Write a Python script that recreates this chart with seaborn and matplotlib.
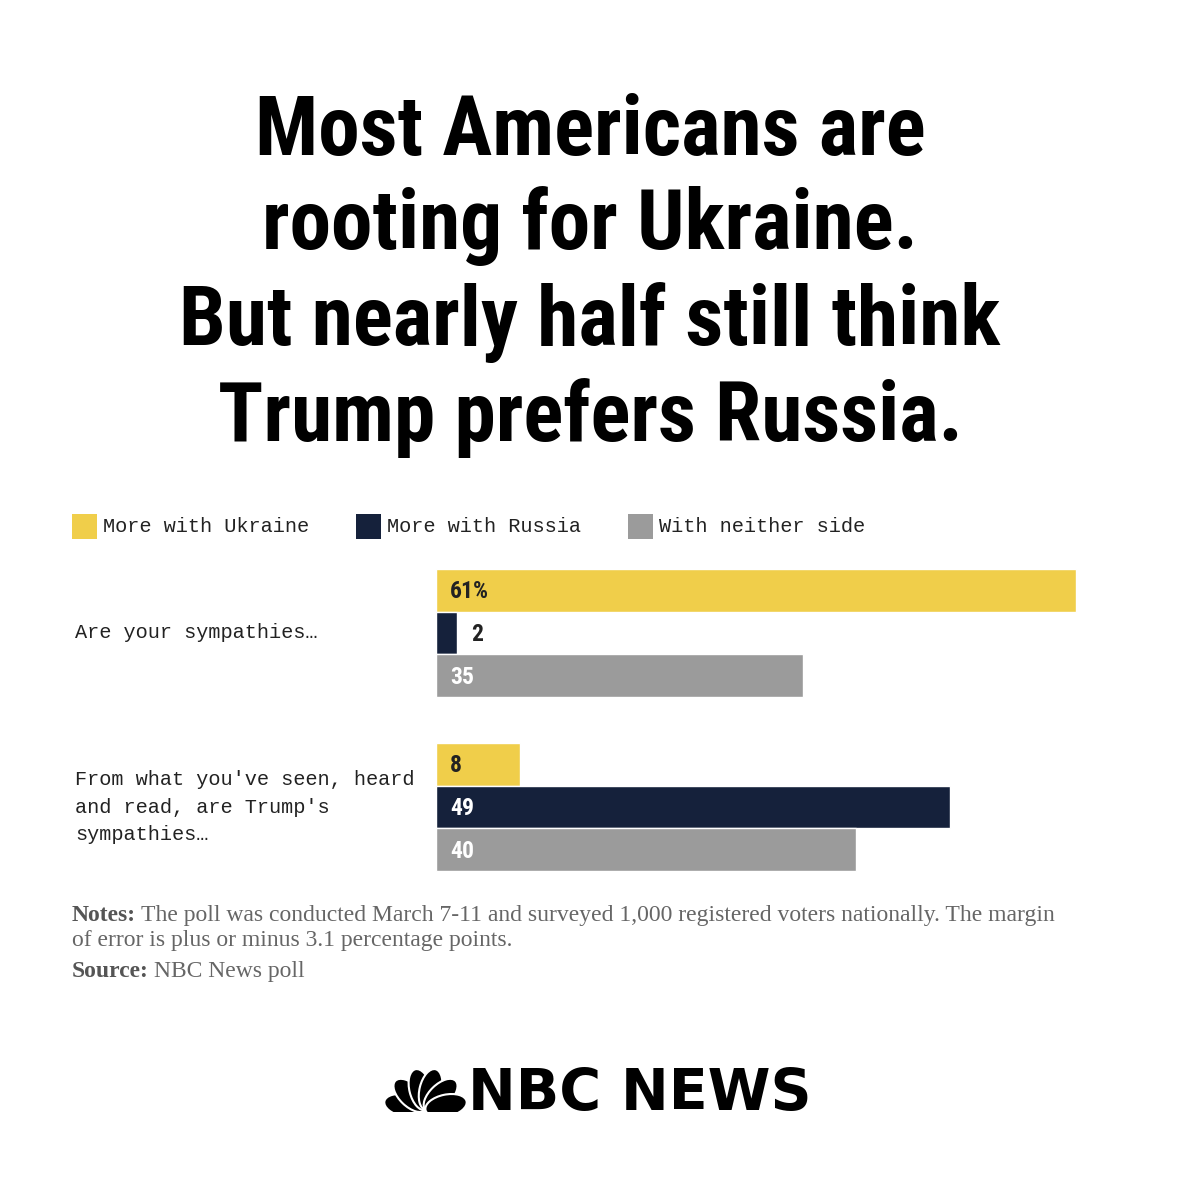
import numpy as np
import pandas as pd
import seaborn as sns
import matplotlib.pyplot as plt
from matplotlib.patches import Rectangle, Ellipse
from matplotlib import transforms

# data
questions = ["Are your sympathies…",
             "From what you've seen, heard\nand read, are Trump's\nsympathies…"]
responses = ["More with Ukraine", "More with Russia", "With neither side"]
ukraine = [61, 8]
russia = [2, 49]
neither = [35, 40]
colors = ["#F0CE4A", "#15213B", "#9B9B9B"]
label_colors = ["#222222", "white", "white"]

title_lines = ["Most Americans are", "rooting for Ukraine.",
               "But nearly half still think", "Trump prefers Russia."]
notes_line1 = "The poll was conducted March 7-11 and surveyed 1,000 registered voters nationally. The margin"
notes_line2 = "of error is plus or minus 3.1 percentage points."
source_text = "NBC News poll"

df = pd.DataFrame({
    "question": questions * 3,
    "response": np.repeat(responses, 2),
    "value": ukraine + russia + neither,
})

sns.set_theme(style="white")
plt.rcParams['font.family'] = ['DejaVu Sans']

W = H = 1200
fig = plt.figure(figsize=(12, 12), dpi=100)
fig.patch.set_facecolor("white")


def fx(px):
    return px / W


def fy(py):
    return 1 - py / H


narrow = ['Roboto Condensed', 'Liberation Sans Narrow', 'DejaVu Sans']
mono = ['Liberation Mono', 'DejaVu Sans Mono']
serif = ['Liberation Serif', 'DejaVu Serif']

# title
for line, base in zip(title_lines, [155, 249, 345, 441]):
    fig.text(fx(590), fy(base), line, ha="center", va="baseline",
             fontsize=60, fontweight="bold", family=narrow, color="black")

# legend
for name, col, x0 in zip(responses, colors, [72, 356, 628]):
    fig.add_artist(Rectangle((fx(x0), fy(539)), 25 / W, 25 / H,
                             transform=fig.transFigure, color=col, lw=0))
    fig.text(fx(x0 + 31), fy(527), name, ha="left", va="center",
             fontsize=14.6, family=mono, color="#222222")

# bars
ax = fig.add_axes([fx(436), fy(880), (1100 - 436) / W, 320 / H])
sns.barplot(data=df, x="value", y="question", hue="response",
            hue_order=responses, palette=colors, orient="h", width=0.74,
            saturation=1, errorbar=None, ax=ax, legend=False)
unit = 640 / 61
ax.set_xlim(0, (1100 - 436) / unit)
ax.set_ylim(1.4195, -0.4195)
ax.axis("off")

pad = 14 / unit
for i, cont in enumerate(ax.containers):
    for j, bar in enumerate(cont):
        v = bar.get_width()
        yc = bar.get_y() + bar.get_height() / 2
        txt = f"{v:.0f}" + ("%" if i == 0 and j == 0 else "")
        if v < 5:
            x, c = v + pad, "#222222"
        else:
            x, c = pad, label_colors[i]
        ax.text(x, yc + 0.01, txt, ha="left", va="center", fontsize=17,
                fontweight="bold", family=narrow, color=c)

# question labels
tr = transforms.blended_transform_factory(fig.transFigure, ax.transData)
for k, q in enumerate(questions):
    ax.text(fx(75), k, q, transform=tr, ha="left", va="center",
            fontsize=14.6, family=mono, color="#222222", linespacing=1.55)

# notes
fig.canvas.draw()
r = fig.canvas.get_renderer()
nfs = 17


def bold_lead(y, lead, rest):
    t = fig.text(fx(72), fy(y), lead, ha="left", va="baseline", fontsize=nfs,
                 fontweight="bold", family=serif, color="#555555")
    bb = t.get_window_extent(r)
    fig.text(bb.x1 / W + 5 / W, fy(y), rest, ha="left", va="baseline",
             fontsize=nfs, family=serif, color="#666666")


bold_lead(921, "Notes:", notes_line1)
fig.text(fx(72), fy(946), notes_line2, ha="left", va="baseline",
         fontsize=nfs, family=serif, color="#666666")
bold_lead(977, "Source:", source_text)

# logo
lax = fig.add_axes([fx(385), fy(1112), 81 / W, 50 / H])
lax.set_xlim(0, 81)
lax.set_ylim(0, 50)
lax.axis("off")
bx, by = 40.5, 2
for ang in [168, 136, 104, 76, 44, 12]:
    a = np.deg2rad(ang)
    cx, cy = bx + 21 * np.cos(a), by + 21 * np.sin(a)
    lax.add_patch(Ellipse((cx, cy), 42, 22, angle=ang, facecolor="black",
                          edgecolor="white", lw=1.5))
fig.text(fx(468), fy(1110), "NBC NEWS", ha="left", va="baseline",
         fontsize=41, fontweight="bold", family=['DejaVu Sans'],
         color="black")

fig.savefig("out.png", dpi=100, facecolor="white")
